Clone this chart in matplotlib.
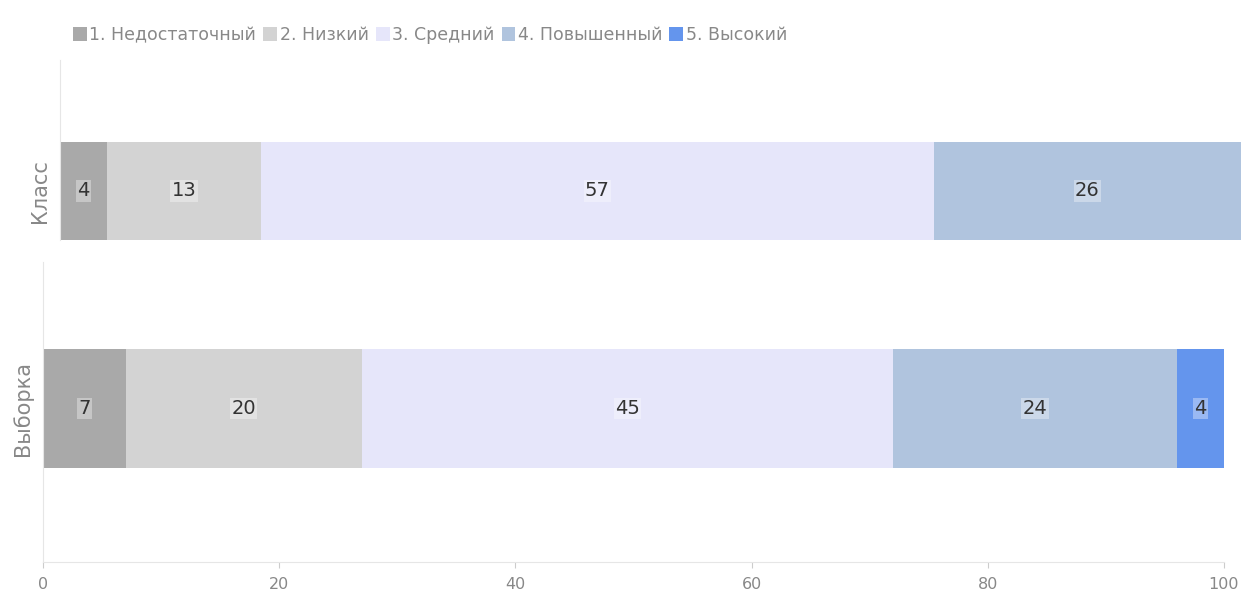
import matplotlib.pyplot as plt
from matplotlib.patches import Patch

# данные
levels = ['1. Недостаточный', '2. Низкий', '3. Средний', '4. Повышенный', '5. Высокий']
colors = ['darkgray', 'lightgray', 'lavender', 'lightsteelblue', 'cornflowerblue']
klass = [4, 13, 57, 26, 0]
vyborka = [7, 20, 45, 24, 4]
ticks = [0, 20, 40, 60, 80, 100]

W, H = 1243, 596
fig = plt.figure(figsize=(W / 100, H / 100), dpi=100)


def px_axes(left, top, right, bottom):
    return fig.add_axes([left / W, 1 - bottom / H, (right - left) / W, (bottom - top) / H])


def draw_row(ax, values, name):
    left = 0
    for v, c in zip(values, colors):
        if v > 0:
            ax.barh(0, v, left=left, height=1, color=c)
            ax.text(left + v / 2, 0, str(v), ha='center', va='center', fontsize=14,
                    color='#333333',
                    bbox=dict(facecolor='white', alpha=0.35, edgecolor='none', pad=1))
        left += v
    ax.set_xlim(0, 100)
    ax.set_yticks([0])
    ax.set_yticklabels([name], rotation=90, va='center', fontsize=15, color='#888888')
    ax.tick_params(axis='y', length=0, pad=7)
    for s in ['top', 'right']:
        ax.spines[s].set_visible(False)
    ax.spines['left'].set_color('#e6e6e6')
    ax.spines['bottom'].set_color('#e6e6e6')


# верхняя панель (Класс)
ax1 = px_axes(60, 60, 1241, 240)
draw_row(ax1, klass, 'Класс')
ax1.set_ylim(-0.5, -0.5 + 180 / 98)
ax1.spines['bottom'].set_visible(False)
ax1.set_xticks([])

# нижняя панель (Выборка)
ax2 = px_axes(43, 262, 1224, 562)
draw_row(ax2, vyborka, 'Выборка')
ax2.set_ylim(-153.5 / 119, 146.5 / 119)
ax2.set_xticks(ticks)
ax2.tick_params(axis='x', colors='#cccccc', labelsize=11.5, length=4, pad=7)
for lbl in ax2.get_xticklabels():
    lbl.set_color('#888888')

handles = [Patch(facecolor=c, edgecolor='none') for c in colors]
leg = fig.legend(handles, levels, loc='center left', bbox_to_anchor=(66 / W, 1 - 35 / H),
                 ncol=5, frameon=False, fontsize=12.5, handlelength=0.8, handleheight=0.8,
                 handletextpad=0.15, columnspacing=0.4, borderaxespad=0)
for t in leg.get_texts():
    t.set_color('#888888')

plt.savefig('out.png', dpi=100)
